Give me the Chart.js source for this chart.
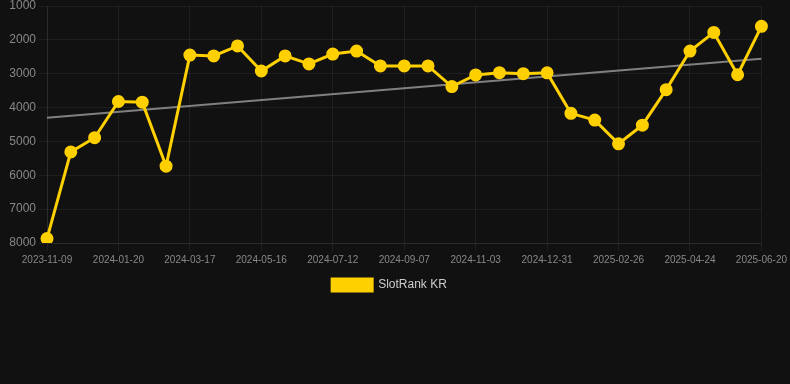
<!DOCTYPE html>
<html>
<head>
<meta charset="utf-8">
<script src="https://cdn.jsdelivr.net/npm/chart.js@4/dist/chart.umd.min.js"></script>
<style>
html,body{margin:0;padding:0;background:#111111;overflow:hidden;}
#wrap{position:relative;width:790px;height:304px;margin-top:-3px;}
</style>
</head>
<body>
<div id="wrap"><canvas id="c"></canvas></div>
<script>
const dates = [
  "2023-11-09","2023-12-03","2023-12-27","2024-01-20","2024-02-08","2024-02-27",
  "2024-03-17","2024-04-06","2024-04-26","2024-05-16","2024-06-04","2024-06-23",
  "2024-07-12","2024-07-31","2024-08-19","2024-09-07","2024-09-26","2024-10-15",
  "2024-11-03","2024-11-22","2024-12-11","2024-12-31","2025-01-19","2025-02-07",
  "2025-02-26","2025-03-17","2025-04-05","2025-04-24","2025-05-13","2025-06-01",
  "2025-06-20"
];
const rankKR = [
  7870, 5310, 4890, 3820, 3840, 5730, 2450, 2475, 2180, 2920,
  2475, 2710, 2420, 2330, 2770, 2770, 2770, 3380, 3035, 2970,
  3000, 2975, 4170, 4370, 5070, 4520, 3470, 2330, 1780, 3030,
  1600
];
const trendStart = 4300;
const trendEnd = 2560;
const yTicks = [1000, 2000, 3000, 4000, 5000, 6000, 7000, 8000];

const trend = dates.map((d, i) => (i === 0 ? trendStart : (i === dates.length - 1 ? trendEnd : null)));

new Chart(document.getElementById('c'), {
  type: 'line',
  data: {
    labels: dates,
    datasets: [
      {
        label: 'SlotRank KR',
        data: rankKR,
        borderColor: '#FFD000',
        backgroundColor: '#FFD000',
        borderWidth: 3,
        pointRadius: 5,
        pointHoverRadius: 5,
        pointBackgroundColor: '#FFD000',
        pointBorderColor: '#FFD000',
        tension: 0,
        order: 1
      },
      {
        label: 'trend',
        data: trend,
        spanGaps: true,
        borderColor: '#808080',
        borderWidth: 2,
        pointRadius: 0,
        pointHoverRadius: 0,
        fill: false,
        order: 2
      }
    ]
  },
  options: {
    responsive: true,
    maintainAspectRatio: false,
    animation: false,
    layout: { padding: { left: 0, right: 11, top: 0, bottom: 0 } },
    scales: {
      x: {
        grid: {
          color: function (ctx) { return (ctx.index % 3 === 0) ? 'rgba(255,255,255,0.06)' : 'rgba(0,0,0,0)'; },
          tickLength: 8
        },
        border: { color: 'rgba(255,255,255,0.06)' },
        ticks: {
          color: '#888888',
          font: { size: 10, family: 'Liberation Sans, Arial, sans-serif' },
          autoSkip: false,
          maxRotation: 0,
          callback: function (v, i) { return i % 3 === 0 ? dates[i] : ''; }
        }
      },
      y: {
        reverse: true,
        min: 1000,
        max: 8000,
        afterBuildTicks: function (axis) { axis.ticks = yTicks.map(v => ({ value: v })); },
        afterFit: function (axis) { axis.width = 47; },
        grid: { color: 'rgba(255,255,255,0.06)', tickLength: 8 },
        border: { color: 'rgba(255,255,255,0.06)' },
        ticks: {
          color: '#888888',
          font: { size: 12, lineHeight: 1, family: 'Liberation Sans, Arial, sans-serif' },
          padding: 3,
          callback: function (v) { return String(v); }
        }
      }
    },
    plugins: {
      legend: {
        position: 'bottom',
        labels: {
          color: '#cccccc',
          boxWidth: 40,
          boxHeight: 12,
          font: { size: 12, family: 'Liberation Sans, Arial, sans-serif' },
          filter: function (item) { return item.text !== 'trend'; }
        }
      },
      tooltip: { enabled: false }
    }
  }
});
</script>
</body>
</html>
